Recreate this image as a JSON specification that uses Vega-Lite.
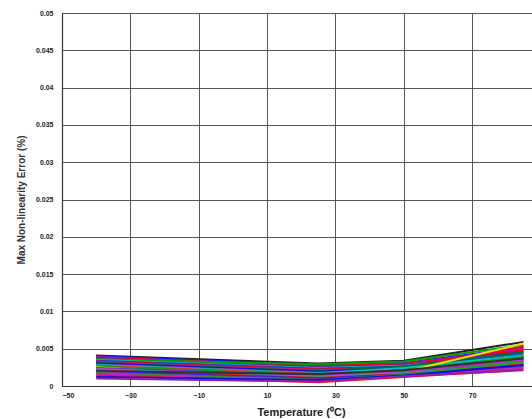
{
  "$schema": "https://vega.github.io/schema/vega-lite/v6.json",
  "autosize": {"type": "none"},
  "padding": {"left": 62, "top": 13, "right": 0, "bottom": 33},
  "width": 470,
  "height": 373,
  "background": "white",
  "config": {
    "view": {"stroke": null},
    "font": "Liberation Sans"
  },
  "data": {
    "values": [
      {"s": "s01", "t": -40, "v": 0.0041}, {"s": "s01", "t": 25, "v": 0.0030}, {"s": "s01", "t": 50, "v": 0.0034}, {"s": "s01", "t": 85, "v": 0.0059},
      {"s": "s02", "t": -40, "v": 0.0040}, {"s": "s02", "t": 25, "v": 0.0028}, {"s": "s02", "t": 50, "v": 0.0031}, {"s": "s02", "t": 85, "v": 0.0052},
      {"s": "s03", "t": -40, "v": 0.0039}, {"s": "s03", "t": 25, "v": 0.0026}, {"s": "s03", "t": 50, "v": 0.0030}, {"s": "s03", "t": 85, "v": 0.0050},
      {"s": "s04", "t": -40, "v": 0.0038}, {"s": "s04", "t": 25, "v": 0.0027}, {"s": "s04", "t": 50, "v": 0.0029}, {"s": "s04", "t": 85, "v": 0.0048},
      {"s": "s05", "t": -40, "v": 0.0037}, {"s": "s05", "t": 25, "v": 0.0025}, {"s": "s05", "t": 50, "v": 0.0028}, {"s": "s05", "t": 85, "v": 0.0046},
      {"s": "s06", "t": -40, "v": 0.0036}, {"s": "s06", "t": 25, "v": 0.0029}, {"s": "s06", "t": 50, "v": 0.0033}, {"s": "s06", "t": 85, "v": 0.0055},
      {"s": "s07", "t": -40, "v": 0.0035}, {"s": "s07", "t": 25, "v": 0.0024}, {"s": "s07", "t": 50, "v": 0.0027}, {"s": "s07", "t": 85, "v": 0.0044},
      {"s": "s08", "t": -40, "v": 0.0034}, {"s": "s08", "t": 25, "v": 0.0023}, {"s": "s08", "t": 50, "v": 0.0026}, {"s": "s08", "t": 85, "v": 0.0042},
      {"s": "s09", "t": -40, "v": 0.0033}, {"s": "s09", "t": 25, "v": 0.0022}, {"s": "s09", "t": 50, "v": 0.0025}, {"s": "s09", "t": 85, "v": 0.0053},
      {"s": "s10", "t": -40, "v": 0.0032}, {"s": "s10", "t": 25, "v": 0.0021}, {"s": "s10", "t": 50, "v": 0.0024}, {"s": "s10", "t": 85, "v": 0.0040},
      {"s": "s11", "t": -40, "v": 0.0031}, {"s": "s11", "t": 25, "v": 0.0020}, {"s": "s11", "t": 50, "v": 0.0026}, {"s": "s11", "t": 85, "v": 0.0045},
      {"s": "s12", "t": -40, "v": 0.0030}, {"s": "s12", "t": 25, "v": 0.0019}, {"s": "s12", "t": 50, "v": 0.0023}, {"s": "s12", "t": 85, "v": 0.0038},
      {"s": "s13", "t": -40, "v": 0.0029}, {"s": "s13", "t": 25, "v": 0.0018}, {"s": "s13", "t": 50, "v": 0.0022}, {"s": "s13", "t": 85, "v": 0.0036},
      {"s": "s14", "t": -40, "v": 0.0028}, {"s": "s14", "t": 25, "v": 0.0017}, {"s": "s14", "t": 50, "v": 0.0024}, {"s": "s14", "t": 85, "v": 0.0041},
      {"s": "s15", "t": -40, "v": 0.0027}, {"s": "s15", "t": 25, "v": 0.0016}, {"s": "s15", "t": 50, "v": 0.0020}, {"s": "s15", "t": 85, "v": 0.0034},
      {"s": "s16", "t": -40, "v": 0.0026}, {"s": "s16", "t": 25, "v": 0.0015}, {"s": "s16", "t": 50, "v": 0.0021}, {"s": "s16", "t": 85, "v": 0.0039},
      {"s": "s17", "t": -40, "v": 0.0025}, {"s": "s17", "t": 25, "v": 0.0007}, {"s": "s17", "t": 50, "v": 0.0019}, {"s": "s17", "t": 85, "v": 0.0057},
      {"s": "s18", "t": -40, "v": 0.0024}, {"s": "s18", "t": 25, "v": 0.0014}, {"s": "s18", "t": 50, "v": 0.0018}, {"s": "s18", "t": 85, "v": 0.0032},
      {"s": "s19", "t": -40, "v": 0.0023}, {"s": "s19", "t": 25, "v": 0.0013}, {"s": "s19", "t": 50, "v": 0.0019}, {"s": "s19", "t": 85, "v": 0.0035},
      {"s": "s20", "t": -40, "v": 0.0022}, {"s": "s20", "t": 25, "v": 0.0012}, {"s": "s20", "t": 50, "v": 0.0017}, {"s": "s20", "t": 85, "v": 0.0030},
      {"s": "s21", "t": -40, "v": 0.0021}, {"s": "s21", "t": 25, "v": 0.0011}, {"s": "s21", "t": 50, "v": 0.0016}, {"s": "s21", "t": 85, "v": 0.0029},
      {"s": "s22", "t": -40, "v": 0.0020}, {"s": "s22", "t": 25, "v": 0.0016}, {"s": "s22", "t": 50, "v": 0.0021}, {"s": "s22", "t": 85, "v": 0.0037},
      {"s": "s23", "t": -40, "v": 0.0019}, {"s": "s23", "t": 25, "v": 0.0010}, {"s": "s23", "t": 50, "v": 0.0015}, {"s": "s23", "t": 85, "v": 0.0027},
      {"s": "s24", "t": -40, "v": 0.0018}, {"s": "s24", "t": 25, "v": 0.0009}, {"s": "s24", "t": 50, "v": 0.0014}, {"s": "s24", "t": 85, "v": 0.0026},
      {"s": "s25", "t": -40, "v": 0.0017}, {"s": "s25", "t": 25, "v": 0.0008}, {"s": "s25", "t": 50, "v": 0.0015}, {"s": "s25", "t": 85, "v": 0.0033},
      {"s": "s26", "t": -40, "v": 0.0016}, {"s": "s26", "t": 25, "v": 0.0006}, {"s": "s26", "t": 50, "v": 0.0013}, {"s": "s26", "t": 85, "v": 0.0024},
      {"s": "s27", "t": -40, "v": 0.0014}, {"s": "s27", "t": 25, "v": 0.0005}, {"s": "s27", "t": 50, "v": 0.0012}, {"s": "s27", "t": 85, "v": 0.0022},
      {"s": "s28", "t": -40, "v": 0.0012}, {"s": "s28", "t": 25, "v": 0.0008}, {"s": "s28", "t": 50, "v": 0.0014}, {"s": "s28", "t": 85, "v": 0.0028},
      {"s": "s29", "t": -40, "v": 0.0010}, {"s": "s29", "t": 25, "v": 0.0006}, {"s": "s29", "t": 50, "v": 0.0013}, {"s": "s29", "t": 85, "v": 0.0021}
    ]
  },
  "mark": {"type": "line", "strokeWidth": 2, "clip": true},
  "encoding": {
    "x": {
      "field": "t",
      "type": "quantitative",
      "scale": {"domain": [-50, 87.5], "nice": false, "zero": false},
      "axis": {
        "values": [-50, -30, -10, 10, 30, 50, 70],
        "title": "Temperature (⁰C)",
        "titleFontSize": 11,
        "titleFontWeight": "bold",
        "titleColor": "#222",
        "titleX": 239,
        "titlePadding": 8,
        "labelFontSize": 7,
        "labelFontWeight": "bold",
        "labelColor": "#222",
        "labelPadding": 5,
        "ticks": false,
        "domainColor": "#333",
        "domainWidth": 1.2,
        "gridColor": "#444",
        "gridWidth": 0.9,
        "gridOpacity": 1
      }
    },
    "y": {
      "field": "v",
      "type": "quantitative",
      "scale": {"domain": [0, 0.05], "nice": false},
      "axis": {
        "values": [0, 0.005, 0.01, 0.015, 0.02, 0.025, 0.03, 0.035, 0.04, 0.045, 0.05],
        "format": "~g",
        "title": "Max Non-linearity Error (%)",
        "titleFontSize": 10,
        "titleFontWeight": "bold",
        "titleColor": "#333",
        "titlePadding": 9,
        "labelFontSize": 7,
        "labelFontWeight": "bold",
        "labelColor": "#222",
        "labelPadding": 9,
        "ticks": false,
        "domainColor": "#333",
        "domainWidth": 1.2,
        "gridColor": "#444",
        "gridWidth": 0.9,
        "gridOpacity": 1
      }
    },
    "color": {
      "field": "s",
      "type": "nominal",
      "legend": null,
      "scale": {
        "domain": ["s01","s02","s03","s04","s05","s06","s07","s08","s09","s10","s11","s12","s13","s14","s15","s16","s17","s18","s19","s20","s21","s22","s23","s24","s25","s26","s27","s28","s29"],
        "range": ["#202020","#1a1aff","#cc00cc","#ff0000","#6a1a9a","#00a000","#00bfbf","#2233cc","#e01010","#b020b0","#006a3a","#0000ff","#7e2f8e","#00c0c0","#ff2020","#10a010","#e8e000","#3040c0","#c030c0","#20b0b0","#e02020","#303030","#2020ee","#8030a0","#20a020","#c020c0","#ff1010","#1010dd","#9020b0"]
      }
    }
  }
}
